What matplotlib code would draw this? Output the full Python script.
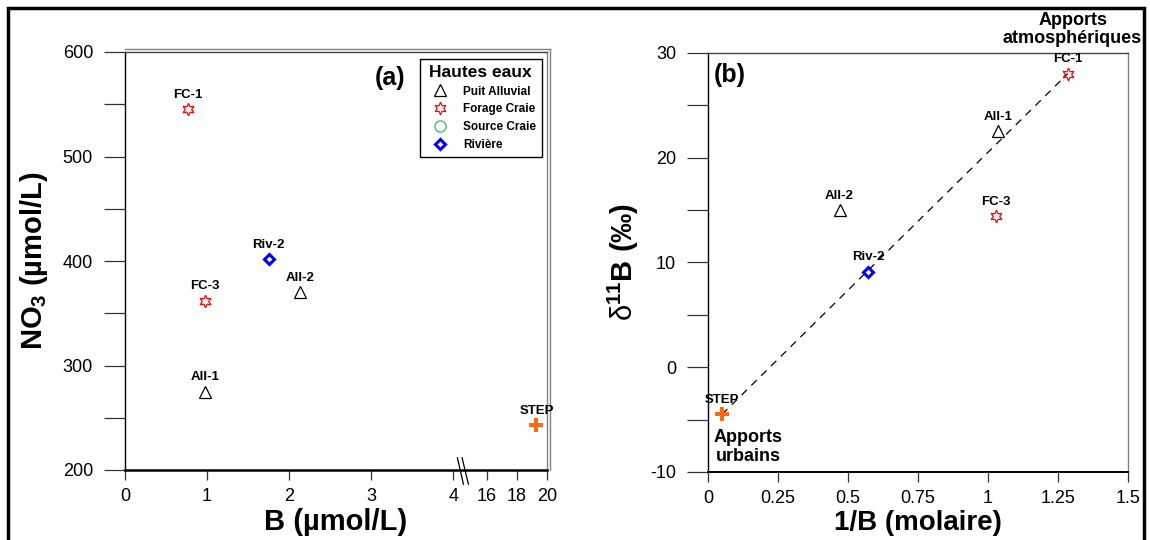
"""Hautes eaux : NO3 vs B (a) et d11B vs 1/B (b)."""

import matplotlib

matplotlib.use("Agg")
import matplotlib.pyplot as plt
import numpy as np
from matplotlib.patches import Rectangle

plt.rcParams["font.family"] = ["Liberation Sans", "DejaVu Sans"]
plt.rcParams["axes.unicode_minus"] = False
plt.rcParams["mathtext.fontset"] = "custom"
plt.rcParams["mathtext.rm"] = "Liberation Sans"
plt.rcParams["mathtext.bf"] = "Liberation Sans:bold"
plt.rcParams["mathtext.it"] = "Liberation Sans:italic"
plt.rcParams["mathtext.sf"] = "Liberation Sans"

# --- données -------------------------------------------------------------
SAMPLES = ["All-1", "All-2", "FC-1", "FC-3", "Riv-2", "STEP"]
GROUPS = ["Puit Alluvial", "Puit Alluvial", "Forage Craie", "Forage Craie", "Rivière", "STEP"]

B_UMOL = [0.97, 2.13, 0.77, 0.97, 1.75, 19.3]
NO3_UMOL = [275, 370, 545, 362, 402, 243]

INV_B = [1.037, 0.47, 1.285, 1.029, 0.571, 0.05]
D11B = [22.5, 15.0, 28.0, 14.4, 9.1, -4.5]

# droite de mélange STEP -> FC-1
MIX_X = [0.05, 1.285]
MIX_Y = [-4.5, 28.0]

X_TICKS_A = [0, 1, 2, 3, 4, 16, 18, 20]
Y_TICKS_A = [200, 300, 400, 500, 600]
X_TICKS_B = [0, 0.25, 0.5, 0.75, 1, 1.25, 1.5]
Y_TICKS_B = [-10, 0, 10, 20, 30]

STYLES = {
    "Puit Alluvial": dict(marker="^", ms=8, mfc="none", mec="black", mew=0.9),
    "Forage Craie": dict(marker=(6, 1, 0), ms=9, mfc="none", mec="#ff0000", mew=0.9),
    "Source Craie": dict(marker="o", ms=8, mfc="none", mec="#33cc66", mew=1.0),
    "Rivière": dict(marker="D", ms=5.5, mfc="white", mec="#0000ff", mew=2.2),
    "STEP": dict(marker="P", ms=9.5, mfc="#ff6a10", mec="none", mew=0),
}

# axe x coupé : 0-4.2 puis 14.87-20 comprimé
BRK = 4.2
X0 = 14.87
SCL = 0.1833


def fwd(x):
    x = np.asarray(x, dtype=float)
    return np.where(x <= BRK, x, BRK + np.maximum(x - X0, 0) * SCL)


def inv(u):
    u = np.asarray(u, dtype=float)
    return np.where(u <= BRK, u, X0 + (u - BRK) / SCL)


def style_axes(ax):
    for side in ["left", "bottom"]:
        ax.spines[side].set_color("black")
    ax.spines["left"].set_linewidth(1.0)
    ax.spines["bottom"].set_linewidth(1.8)
    ax.spines["top"].set_color("#444444")
    ax.spines["top"].set_linewidth(1.0)
    ax.spines["right"].set_color("#808080")
    ax.spines["right"].set_linewidth(1.0)
    ax.tick_params(axis="y", which="both", direction="out", length=15, width=0.9,
                   color="#333333", labelsize=13, pad=8)
    ax.tick_params(axis="x", which="both", direction="out", length=7, width=0.9,
                   color="#333333", labelsize=13, pad=6)


def label_points(ax, xs, ys):
    for name, x, y in zip(SAMPLES, xs, ys):
        ax.annotate(name, (x, y), xytext=(0, 6), textcoords="offset points",
                    ha="center", va="bottom", fontsize=9.5, fontweight="bold")


fig = plt.figure(figsize=(11.5, 5.4), dpi=100)
fig.patches.append(Rectangle((8 / 1150, -0.05), 1136 / 1150, 1 - 8 / 540 + 0.05,
                             transform=fig.transFigure, fill=False,
                             edgecolor="black", linewidth=2.5))

# ---------------- (a) ----------------
ax1 = fig.add_axes([125 / 1150, 70 / 540, 422 / 1150, 418 / 540])
ax1.set_xscale("function", functions=(fwd, inv))
for name, grp, x, y in zip(SAMPLES, GROUPS, B_UMOL, NO3_UMOL):
    ax1.plot([x], [y], linestyle="none", **STYLES[grp])
label_points(ax1, B_UMOL, NO3_UMOL)

ax1.set_xlim(0, 20)
ax1.set_ylim(200, 600)
ax1.set_xticks(X_TICKS_A)
ax1.set_xticklabels([str(t) for t in X_TICKS_A])
ax1.set_yticks(Y_TICKS_A)
ax1.set_yticks(np.arange(250, 600, 100), minor=True)
style_axes(ax1)
ax1.set_xlabel("B (µmol/L)", fontsize=21, fontweight="bold")
ax1.set_ylabel(r"NO$_\mathbf{3}$ (µmol/L)", fontsize=21, fontweight="bold")
ax1.xaxis.set_label_coords(0.5, -0.092)
ax1.yaxis.set_label_coords(-0.178, 0.5)

# marque de coupure //
xt = ax1.get_xaxis_transform()
for xa, xb in [(4.049, 4.122), (4.106, 4.183)]:
    ax1.plot([xa, xb], [0.0294, -0.034], color="black", lw=0.9,
             transform=xt, clip_on=False)

ax1.text(0.627, 0.938, "(a)", transform=ax1.transAxes, fontsize=18,
         fontweight="bold", ha="center", va="center")

handles = []
for grp in ["Puit Alluvial", "Forage Craie", "Source Craie", "Rivière"]:
    h, = ax1.plot([], [], linestyle="none", label=grp, **STYLES[grp])
    handles.append(h)
leg = ax1.legend(handles=handles, loc="upper right", title="Hautes eaux",
                 bbox_to_anchor=(0.993, 0.988), fancybox=False, framealpha=1,
                 edgecolor="black", prop=dict(size=8.5, weight="bold"),
                 title_fontproperties=dict(size=12.5, weight="bold"),
                 handlelength=2.6, handletextpad=0.65, labelspacing=0.5,
                 borderpad=0.45, borderaxespad=0.2)
leg.get_frame().set_linewidth(1.0)

# double trait gris à droite
ax1.plot([1.007, 1.007], [0, 1.007], color="#808080", lw=1.0,
         transform=ax1.transAxes, clip_on=False)
ax1.plot([0, 1.007], [1.007, 1.007], color="#808080", lw=1.0,
         transform=ax1.transAxes, clip_on=False)

# ---------------- (b) ----------------
ax2 = fig.add_axes([708 / 1150, 68 / 540, 420 / 1150, 419.3 / 540])
ax2.plot(MIX_X, MIX_Y, color="black", lw=0.9, dashes=(6, 5))
for name, grp, x, y in zip(SAMPLES, GROUPS, INV_B, D11B):
    ax2.plot([x], [y], linestyle="none", **STYLES[grp])
label_points(ax2, INV_B, D11B)

ax2.set_xlim(0, 1.5)
ax2.set_ylim(-10, 30)
ax2.set_xticks(X_TICKS_B)
ax2.set_xticklabels(["0", "0.25", "0.5", "0.75", "1", "1.25", "1.5"])
ax2.set_yticks(Y_TICKS_B)
ax2.set_yticks(np.arange(-5, 30, 10), minor=True)
style_axes(ax2)
ax2.spines["bottom"].set_linewidth(1.4)
ax2.set_xlabel("1/B (molaire)", fontsize=20, fontweight="bold")
ax2.set_ylabel(r"$\mathrm{\delta}^{\mathbf{11}}$B (‰)", fontsize=21, fontweight="bold")
ax2.xaxis.set_label_coords(0.5, -0.09)
ax2.yaxis.set_label_coords(-0.16, 0.5)

ax2.text(0.052, 0.947, "(b)", transform=ax2.transAxes, fontsize=18,
         fontweight="bold", ha="center", va="center")
ax2.text(0.868, 1.013, "Apports\natmosphériques", transform=ax2.transAxes,
         fontsize=13, fontweight="bold", ha="center", va="bottom", linespacing=1.1)
ax2.text(0.143, -7.6, "Apports\nurbains", fontsize=13, fontweight="bold",
         ha="center", va="center", linespacing=1.15)

fig.savefig("out.png", dpi=100)
